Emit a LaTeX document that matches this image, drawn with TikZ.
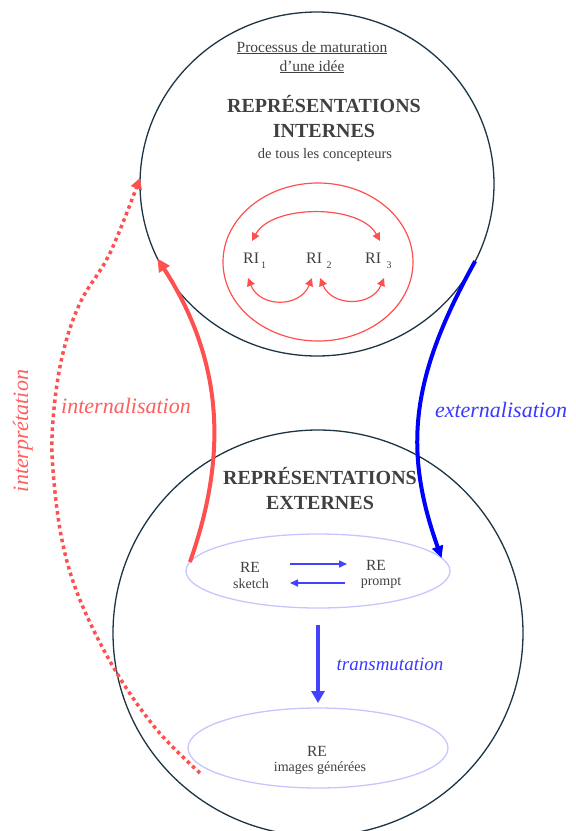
\documentclass[tikz,border=0pt]{standalone}
\usepackage{fontspec}
\setmainfont{Liberation Serif}
\usetikzlibrary{arrows.meta,shapes.geometric}
\definecolor{navy}{HTML}{1C3444}
\definecolor{rred}{HTML}{FF5050}
\definecolor{labred}{HTML}{FF5E5E}
\definecolor{labblue}{HTML}{3A3AFF}
\definecolor{bblue}{HTML}{0000FF}
\definecolor{mblue}{HTML}{4242FF}
\definecolor{lilac}{HTML}{C6C6FF}
\definecolor{txtc}{HTML}{404040}
\begin{document}
\begin{tikzpicture}[x=1pt,y=-1pt,
  ell/.style={ellipse, inner sep=0pt, outer sep=0pt},
  bigc/.style={ell, draw=navy, line width=1.3pt},
  lil/.style={ell, draw=lilac, line width=1.3pt},
  tx/.style={text=txtc, inner sep=0pt, anchor=base},
  lab/.style={inner sep=0pt, anchor=base, font=\fontsize{22}{26}\selectfont\itshape},
  rarr/.style={draw=rred, line width=1.2pt, {Triangle[length=8pt,width=8pt]}-{Triangle[length=8pt,width=8pt]}},
  reare/.style={draw=mblue, line width=1.6pt, -{Triangle[length=8pt,width=7pt]}},
  ]
\useasboundingbox (0,0) rectangle (576,831);
\clip (0,0) rectangle (576,831);

% big circles and ellipses
\node[bigc, minimum width=354pt, minimum height=344pt] (top) at (317,184) {};
\node[bigc, minimum width=410pt, minimum height=406pt] (bot) at (318,633) {};
\node[ell, draw=rred, line width=1.2pt, minimum width=190pt, minimum height=158pt] (riell) at (318,262) {};
\node[lil, minimum width=264pt, minimum height=74pt] (reA) at (318,571) {};
\node[lil, minimum width=260pt, minimum height=80pt] (reB) at (318,748) {};

% top texts
\node[tx, font=\fontsize{15.5}{19}\selectfont] (proc) at (312,52) {\underline{Processus de maturation}};
\node[tx, font=\fontsize{15.5}{19}\selectfont] (idee) at (312,71) {\underline{d’une idée}};
\node[tx, font=\fontsize{20}{24}\selectfont\bfseries] (repi) at (324,112) {REPRÉSENTATIONS};
\node[tx, font=\fontsize{20}{24}\selectfont\bfseries] (inte) at (324,137) {INTERNES};
\node[tx, font=\fontsize{14.5}{17}\selectfont] (tous) at (325,158) {de tous les concepteurs};

% RI
\node[text=txtc, inner sep=0pt, anchor=base west, font=\fontsize{16}{19}\selectfont] (ri1) at (243,263) {RI\hspace{2pt}\raisebox{-5pt}{\fontsize{10}{11}\selectfont 1}};
\node[text=txtc, inner sep=0pt, anchor=base west, font=\fontsize{16}{19}\selectfont] (ri2) at (306,263) {RI\hspace{4.5pt}\raisebox{-5pt}{\fontsize{10}{11}\selectfont 2}};
\node[text=txtc, inner sep=0pt, anchor=base west, font=\fontsize{16}{19}\selectfont] (ri3) at (365,263) {RI\hspace{5.5pt}\raisebox{-5pt}{\fontsize{10}{11}\selectfont 3}};
\coordinate (a1) at (252,241);
\coordinate (a3) at (380,241);
\coordinate (b1) at (248,278);
\coordinate (b2) at (312,278);
\coordinate (c2) at (320,278);
\coordinate (c3) at (384,278);
\draw[rarr] (a1) .. controls (272,204) and (360,204) .. (a3);
\draw[rarr] (b1) .. controls (260,308) and (300,308) .. (b2);
\draw[rarr] (c2) .. controls (332,307) and (372,307) .. (c3);

% bottom texts
\node[tx, font=\fontsize{20}{24}\selectfont\bfseries] (repe) at (320,484) {REPRÉSENTATIONS};
\node[tx, font=\fontsize{20}{24}\selectfont\bfseries] (exte) at (320,509) {EXTERNES};
\node[tx, font=\fontsize{15.5}{18}\selectfont] (re1) at (250,572) {RE};
\node[tx, font=\fontsize{14}{17}\selectfont] (sk) at (251,588) {sketch};
\node[tx, font=\fontsize{15.5}{18}\selectfont] (re2) at (376,570) {RE};
\node[tx, font=\fontsize{14}{17}\selectfont] (pr) at (381,585) {prompt};
\node[tx, font=\fontsize{15.5}{18}\selectfont] (re3) at (317,756) {RE};
\node[tx, font=\fontsize{14}{17}\selectfont] (img) at (320,771) {images  générées};
\coordinate (s1) at (290,564);
\coordinate (s2) at (347,564);
\coordinate (p1) at (345,583);
\coordinate (p2) at (290,583);
\draw[reare] (s1) -- (s2);
\draw[reare] (p1) -- (p2);

% main connectors
\draw[rred, line width=4pt, -{Triangle[length=13pt,width=12pt]}] (reA.176) .. controls (226,460) and (226,365) .. (top.205);
\draw[bblue, line width=4pt, -{Triangle[length=12pt,width=11pt]}] (top.-26) .. controls (412,375) and (402,447) .. (reA.6);
\draw[mblue, line width=4pt, -{Triangle[length=12pt,width=13pt]}, shorten <=17pt, shorten >=5pt] (reA.south) -- (reB.north);
\coordinate (ipst) at (200,773);
\draw[rred, line width=3.5pt, dash pattern=on 3.5pt off 3.5pt, -{Triangle[length=11pt,width=11pt]}]
  plot[smooth, tension=0.6] coordinates {(ipst) (157,730) (115,670) (80,600) (62,540) (53,470) (53,420) (62,357) (80,303) (110,253) (top.178)};

% labels
\node[lab, text=labred] (intl) at (126,413) {internalisation};
\node[lab, text=labblue] (extl) at (501,417) {externalisation};
\node[lab, text=labred, rotate=90] (interp) at (28,431) {interprétation};
\node[lab, text=labblue, font=\fontsize{19}{22}\selectfont\itshape] (trans) at (390,670) {transmutation};
\end{tikzpicture}
\end{document}
